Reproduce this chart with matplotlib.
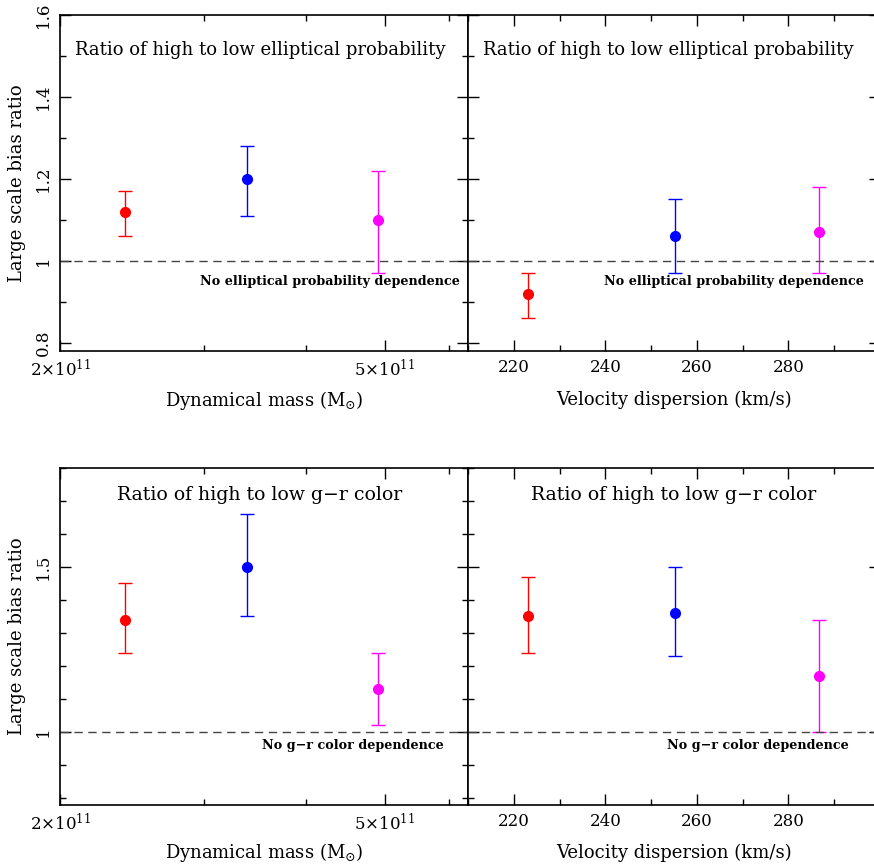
import numpy as np
import matplotlib
matplotlib.use('Agg')
import matplotlib.pyplot as plt
from matplotlib.ticker import FixedLocator, MultipleLocator, NullFormatter, FormatStrFormatter

plt.rcParams['font.family'] = ['DejaVu Serif']
plt.rcParams['mathtext.fontset'] = 'dejavuserif'

colors = ['red', 'blue', 'magenta']

# dynamical mass bins (solar masses) and velocity dispersion bins (km/s)
mass = [2.40e11, 3.39e11, 4.90e11]
sigma = [223.1, 255.3, 286.6]

# elliptical probability ratio
ell_mass = [1.12, 1.20, 1.10]
ell_mass_lo = [1.06, 1.11, 0.97]
ell_mass_hi = [1.17, 1.28, 1.22]
ell_sig = [0.92, 1.06, 1.07]
ell_sig_lo = [0.86, 0.97, 0.97]
ell_sig_hi = [0.97, 1.15, 1.18]

# g-r colour ratio
col_mass = [1.34, 1.50, 1.13]
col_mass_lo = [1.24, 1.35, 1.02]
col_mass_hi = [1.45, 1.66, 1.24]
col_sig = [1.35, 1.36, 1.17]
col_sig_lo = [1.24, 1.23, 1.00]
col_sig_hi = [1.47, 1.50, 1.34]

fig = plt.figure(figsize=(8.74, 8.64), dpi=100)

W = 874.0
H = 864.0
def box(x0, y0, x1, y1):
    return [x0 / W, 1 - y1 / H, (x1 - x0) / W, (y1 - y0) / H]

ax_tl = fig.add_axes(box(60, 15, 468, 351))
ax_tr = fig.add_axes(box(468, 15, 880, 351))
ax_bl = fig.add_axes(box(60, 468, 468, 804.5))
ax_br = fig.add_axes(box(468, 468, 880, 804.5))


def points(ax, x, y, lo, hi):
    for i in range(len(x)):
        ax.errorbar([x[i]], [y[i]], yerr=[[y[i] - lo[i]], [hi[i] - y[i]]],
                    fmt='o', color=colors[i], ms=7, elinewidth=1,
                    capsize=5, capthick=1)


def style(ax, ylim, ymaj, ymin):
    ax.set_ylim(*ylim)
    ax.yaxis.set_major_locator(MultipleLocator(ymaj))
    ax.yaxis.set_minor_locator(MultipleLocator(ymin))
    ax.yaxis.set_major_formatter(FormatStrFormatter('%g'))
    ax.tick_params(which='both', direction='in', top=True, right=True,
                   width=1, labelsize=12, pad=6)
    ax.tick_params(which='major', length=8)
    ax.tick_params(which='minor', length=4)
    for s in ax.spines.values():
        s.set_linewidth(1.2)
    ax.axhline(1.0, color='#444444', ls=(0, (6, 4)), lw=1)


def mass_axis(ax, ylab):
    ax.set_xscale('log')
    ax.set_xlim(2e11, 2e11 * 10 ** 0.5)
    ax.xaxis.set_major_locator(FixedLocator([2e11, 5e11]))
    ax.xaxis.set_minor_locator(FixedLocator([3e11, 4e11, 6e11]))
    ax.xaxis.set_minor_formatter(NullFormatter())
    ax.set_xticklabels([r'$2{\times}10^{11}$', r'$5{\times}10^{11}$'])
    ax.set_xlabel(r'Dynamical mass (M$_{\odot}$)', fontsize=13, va='center')
    ax.xaxis.set_label_coords(0.5, ylab)
    ax.set_ylabel('Large scale bias ratio', fontsize=13, labelpad=6)
    for lab in ax.get_yticklabels():
        lab.set_rotation(90)
        lab.set_va('center')


def sigma_axis(ax, ylab):
    ax.set_xlim(210, 300)
    ax.xaxis.set_major_locator(FixedLocator([220, 240, 260, 280]))
    ax.xaxis.set_minor_locator(MultipleLocator(10))
    ax.set_yticklabels([])
    ax.set_xlabel('Velocity dispersion (km/s)', fontsize=13, va='center')
    ax.xaxis.set_label_coords(0.5, ylab)


# top row: elliptical probability
points(ax_tl, mass, ell_mass, ell_mass_lo, ell_mass_hi)
points(ax_tr, sigma, ell_sig, ell_sig_lo, ell_sig_hi)
for ax in (ax_tl, ax_tr):
    style(ax, (0.78, 1.6), 0.2, 0.1)
mass_axis(ax_tl, -0.146)
sigma_axis(ax_tr, -0.146)

ax_tl.text(0.49, 0.896, 'Ratio of high to low elliptical probability',
           transform=ax_tl.transAxes, ha='center', va='center', fontsize=13)
ax_tr.text(0.485, 0.896, 'Ratio of high to low elliptical probability',
           transform=ax_tr.transAxes, ha='center', va='center', fontsize=13)
ax_tl.text(0.98, 0.95, 'No elliptical probability dependence',
           transform=ax_tl.get_yaxis_transform(), ha='right', va='center',
           fontsize=9.2, fontweight='bold')
ax_tr.text(0.962, 0.95, 'No elliptical probability dependence',
           transform=ax_tr.get_yaxis_transform(), ha='right', va='center',
           fontsize=9.2, fontweight='bold')

# bottom row: g-r colour
points(ax_bl, mass, col_mass, col_mass_lo, col_mass_hi)
points(ax_br, sigma, col_sig, col_sig_lo, col_sig_hi)
for ax in (ax_bl, ax_br):
    style(ax, (0.78, 1.8), 0.5, 0.1)
mass_axis(ax_bl, -0.144)
sigma_axis(ax_br, -0.144)

ax_bl.text(0.49, 0.92, 'Ratio of high to low g\u2212r color',
           transform=ax_bl.transAxes, ha='center', va='center', fontsize=13.6)
ax_br.text(0.5, 0.92, 'Ratio of high to low g\u2212r color',
           transform=ax_br.transAxes, ha='center', va='center', fontsize=13.6)
ax_bl.text(0.94, 0.958, 'No g\u2212r color dependence',
           transform=ax_bl.get_yaxis_transform(), ha='right', va='center',
           fontsize=9.2, fontweight='bold')
ax_br.text(0.925, 0.958, 'No g\u2212r color dependence',
           transform=ax_br.get_yaxis_transform(), ha='right', va='center',
           fontsize=9.2, fontweight='bold')

fig.savefig('out.png', dpi=100)
